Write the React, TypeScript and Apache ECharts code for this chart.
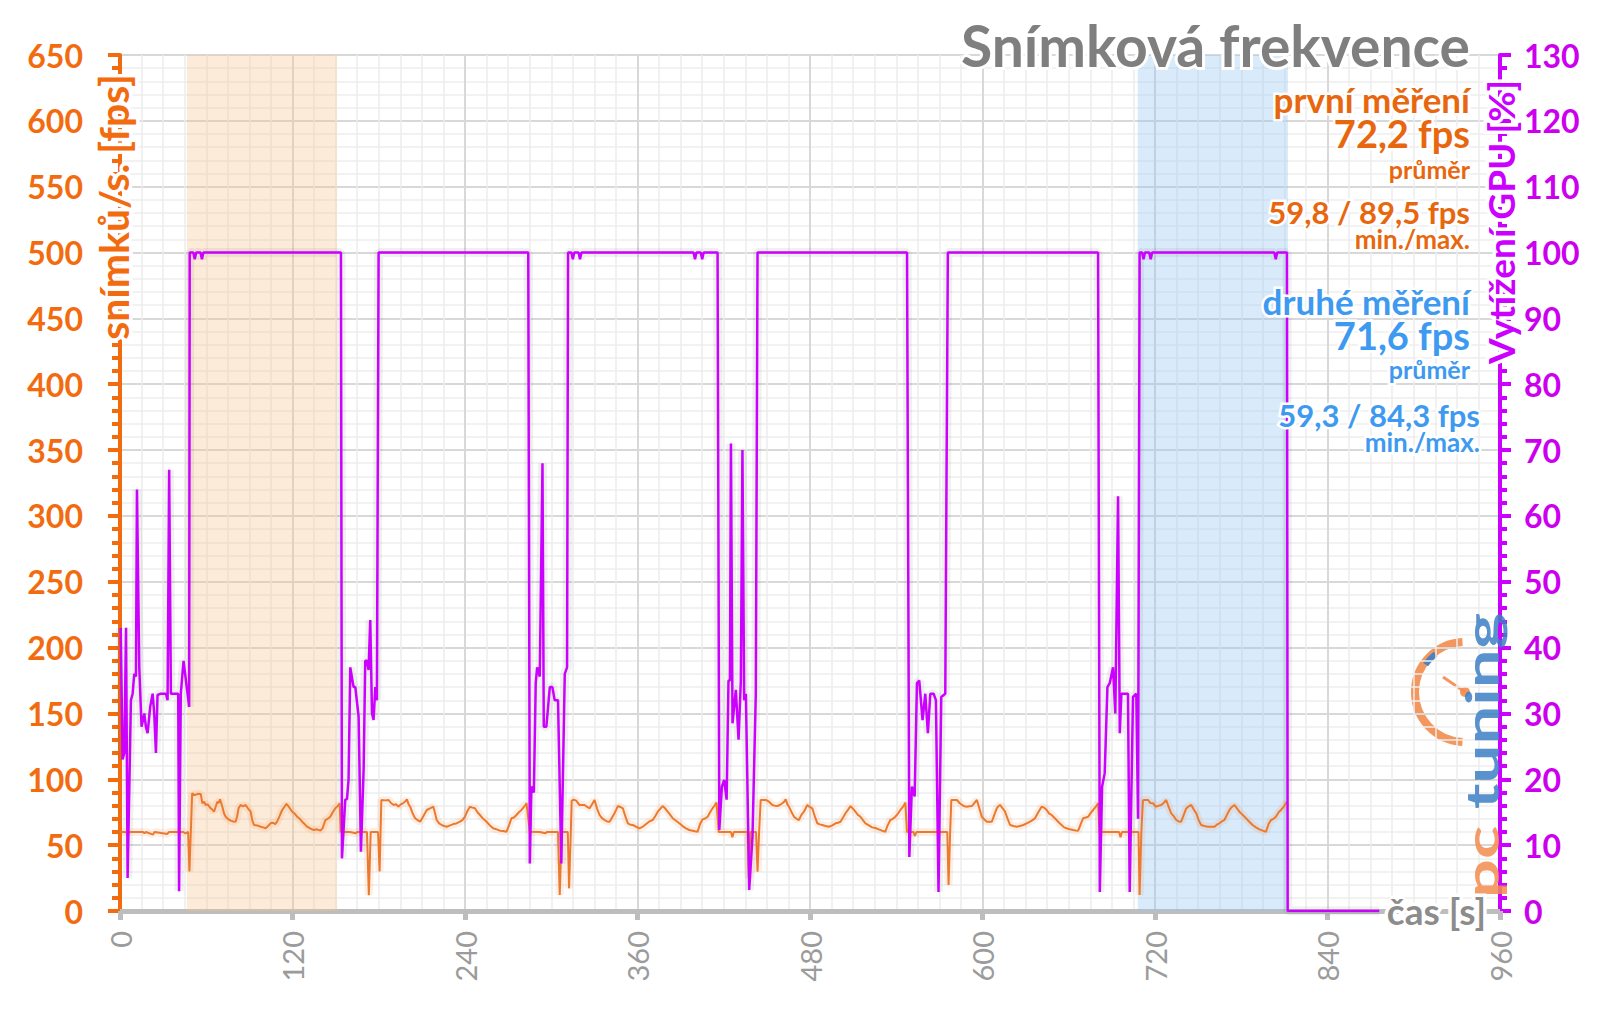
import React, { useEffect, useRef } from "react";
import * as echarts from "echarts";

// ---- Axis ticks ----
const xTickInterval = 120; // s
const xMax = 960;
const fpsMax = 650;
const fpsInterval = 50;
const gpuMax = 130;
const gpuInterval = 10;

// ---- Highlighted runs (seconds) ----
const firstRunBand = [46.5, 151];
const secondRunBand = [708, 812.5];

// ---- Frame rate [fps] as [time s, fps] ----
const fpsLoad0 = [[0,60],[3,60],[6,59.5],[7,60],[16,60],[17,59],[18,60],[23,58],[24,60],[33,58.5],[34,60],[44,60],[45.5,59],[47.4,60],[48.3,30],[50.2,89.4]];
const fpsRun1 = [[52,88],[54,89],[56.2,88.8],[57.3,81.8],[58.5,83],[59.6,80.5],[61,81],[63.1,78],[64.2,77],[65.4,75.4],[66.5,79],[67.7,83],[68.6,82],[69.6,84.8],[71.2,79.2],[72.4,74],[73.5,71.6],[75,70],[77,68.6],[78.8,68],[80.4,67.8],[81.5,72],[82.5,78],[83.9,80.5],[85.5,79.5],[87.4,80.5],[89,78],[90.9,75.4],[92,69],[93.2,65.3],[95.5,65],[97.8,64],[99.5,63.5],[101.3,62.8],[103,64.5],[104.7,66.6],[106.5,67],[108,66],[109.3,67.8],[111,72],[112.8,76.7],[114.3,79],[115.8,81.3],[117.5,79],[119.8,75.4],[121.5,74],[123.2,71.6],[125,70],[126.7,67.8],[128.4,66],[130.2,64],[132.5,62.5],[134.8,61.5],[137,62],[139.4,61],[141,63],[142.9,69.1],[144.5,70],[146.3,71.6],[148,75],[149.8,78],[151.3,79.5],[152.8,81.8]];
const fpsLoad1 = [[153.5,60],[160,60],[164,59],[165,60],[171.8,60],[173.1,12],[174.4,60],[179.5,60],[180.6,30],[181.8,84.3]];
const fpsRun2 = [[184.5,84],[186.9,84.3],[188.5,82],[190.4,80.5],[192,81],[193.8,79.2],[195.3,81],[196.8,81.8],[198.2,83],[199.6,84.8],[200.8,81],[201.9,79.2],[203.6,74],[205.3,70.4],[207,69],[208.8,67.8],[211,72],[213.4,76.7],[215.7,78],[218,79.2],[219.2,74],[220.3,69.1],[222,66.5],[223.8,65.3],[225.5,64.5],[227.3,64],[229.6,65],[231.9,66],[234,66.5],[236.5,67.8],[238.2,69],[240,71.6],[241.7,76],[243.4,79.2],[245.2,78.5],[246.9,78],[248.7,75],[250.4,72.9],[252.7,70],[255,67.8],[257.3,65],[259.6,62.8],[262,62],[264.3,61],[266.6,60.8],[268.9,60.2],[270.6,65],[272.3,70.4],[274,71],[275.8,72.9],[277.5,75],[279.3,76.7],[281,79],[282.8,81.8]];
const fpsLoad2 = [[285.1,60.2],[292,60],[296,59],[297,60],[304.7,60],[305.9,12.1],[307.3,60],[311.5,60],[312.4,17.2],[313.6,60],[314.2,83.8]];
const fpsRun3 = [[315.7,84.5],[317.4,83.8],[318.5,82],[319.7,80.5],[321.5,80.5],[323.2,80.5],[325,79],[326.7,78],[328.4,81],[330.1,84.3],[331.8,78],[333.6,72.9],[335.3,70.5],[337.1,69.1],[338.8,68],[340.6,67.8],[342.3,71],[344,74.2],[345.2,77],[346.3,79.7],[348,79],[349.8,78],[351.5,72],[353.3,66.6],[355,65.5],[356.7,65.3],[359,64],[361.4,62.8],[363.7,64],[366,66],[368.3,68],[370.6,69.1],[372.3,72],[374.1,75.4],[375.8,77.5],[377.5,79.7],[379.2,78],[381,75.4],[382.8,73],[384.5,70.4],[386.8,68.5],[389.1,66.6],[391.4,64.5],[393.7,62.8],[396,61.5],[398.4,61],[400,60.5],[401.8,60.2],[403.5,66],[405.3,69.6],[407,70.2],[408.8,71.6],[410.5,75],[412.2,78],[413.6,80],[415,82.3]];
const fpsLoad3 = [[416.5,60],[425,60],[426,56],[427,60],[436.6,60],[437.5,25],[438.5,60],[442.5,60],[443.5,29.9],[444.6,60],[445.7,84.3]];
const fpsRun4 = [[447,84.3],[449.2,84.3],[451.5,83],[453.8,80.5],[455.5,80],[457.3,79.7],[459,80.5],[460.8,81.8],[462,83],[463.1,84.8],[464.3,81],[465.4,79.2],[467.2,75],[468.9,71.6],[470.6,70],[472.3,69.1],[474,73],[475.8,75.4],[477,78],[478.1,80.5],[479.8,79],[481.6,78],[483.3,72],[485.1,66.6],[486.8,65.8],[488.5,65.3],[490.8,64.5],[493.1,64],[495.5,65],[497.8,66.6],[499.5,67],[501.2,67.8],[503,71],[504.7,74.2],[506.5,77],[508.2,79.7],[510,77.5],[511.6,75.4],[513.3,73],[515.1,71.6],[516.8,69],[518.6,66.6],[521,65],[523.2,63.5],[525.5,63],[527.8,62],[530,61],[532.4,60.2],[534,65],[535.9,69.1],[537.6,70],[539.4,71.6],[541.2,74],[542.9,76.7],[544.6,79],[546.3,82.3]];
const fpsLoad4 = [[547.5,60],[552,60],[553,57],[554,60],[575.5,60],[576.4,19.7],[577.5,60],[578.3,84.3]];
const fpsRun5 = [[579.5,84.3],[582.2,84.3],[584,82],[585.7,80.5],[587.4,79.5],[589.1,79.2],[590.8,79.5],[592.6,79.7],[594.3,82],[596.1,84.3],[597.8,78],[599.5,71.6],[601.3,69.5],[603,67.8],[604.7,67.8],[606.5,67.8],[608.2,73],[609.9,78],[611,79.5],[612.2,80.5],[614,78],[615.7,75.4],[617.5,70],[619.2,65.3],[621.5,64.5],[623.8,64],[626,64.5],[628.4,65.3],[630.7,66.5],[633.1,67.8],[634.8,69],[636.5,70.4],[638.8,75],[641.1,79.2],[642.9,78.5],[644.6,76.7],[646.4,74],[648.1,72.9],[649.8,71],[651.5,69.1],[653.3,67],[655,65.3],[656.8,63.5],[658.5,62.8],[660.8,62],[663.1,61.5],[664.8,61.2],[666.6,61],[668.3,66],[670,70.4],[671.8,71],[673.5,71.6],[675.3,74.5],[677,76.7],[678.7,79],[680.4,81.8]];
const fpsLoad5 = [[681.5,60],[695,60],[696,56],[697,60],[708.5,60],[709.3,12.1],[710.5,60],[711.6,84]];
const fpsRun6 = [[712.5,84.3],[715.1,84.3],[716.8,82],[718.6,81.8],[719.8,80],[720.9,79.2],[722.6,80],[724.4,80.5],[726,82],[727.8,84.3],[729.5,79],[731.3,74.2],[733,72],[734.8,69.1],[736.5,68],[738.2,67.8],[740,73],[741.7,77.9],[743.5,79.5],[745.2,80.5],[747,77],[748.7,74.2],[750.4,69],[752.1,65.3],[754.4,64.5],[756.7,64],[759,64],[761.4,64],[763,65.5],[764.8,66.6],[766.5,68],[768.3,69.1],[770,73],[771.8,76.7],[773.5,79],[775.2,80.5],[777,78],[778.7,75.4],[781,73],[783.3,70.4],[785.6,67.8],[787.9,65.3],[790.2,63.5],[792.6,62],[795,61],[797.2,60.2],[799,66],[800.7,69.1],[802.4,70],[804.1,71.6],[806,75],[807.6,76.7],[809.7,79.5],[811.8,83]];

// ---- GPU utilisation [%] as [time s, %] ----
const gpuLoad0 = [[0.5,43],[1.8,23],[3,24],[4.2,43],[5.3,5],[7.6,32],[8.8,33],[9.9,36],[11.1,35.6],[11.8,64],[13.4,37],[15,28],[16.9,30],[18,28],[19.2,27],[21,31],[22.7,33],[23.8,30],[25,24],[26.1,32.8],[28.4,33],[31.9,33],[33.1,32],[34.2,67],[35.4,33],[40.5,33],[41.1,3],[42.3,33],[44.2,38],[48.1,31],[48.5,100]];
const gpuRun1 = [[51,100],[52,99],[53,100],[56,100],[57,99],[58,100],[153.7,100]];
const gpuLoad1 = [[154.4,8],[156.7,16.9],[157.9,17],[159,20],[160.2,37],[162.5,34],[163.7,34],[166,29.5],[167.6,9],[169.5,21.7],[170.6,38],[171.8,38],[172.9,36.6],[174.1,44.2],[175.3,30],[176.4,29],[177.6,34],[178.7,32],[179.9,100]];
const gpuRun2 = [[284,100]];
const gpuLoad2 = [[285.1,7.2],[286.2,18.9],[287.9,18],[289.2,34.6],[290.2,37],[292,35.6],[293.9,68],[294.8,28],[296.6,28],[299,34],[300.8,34],[302.4,32],[304.7,32],[307,7.2],[309.4,36],[311,37],[311.7,100]];
const gpuRun3 = [[314,100],[315,99],[316,100],[319,100],[320,99],[321,100],[399,100],[400,99],[401,100],[404,100],[405,99],[406,100],[415.7,100]];
const gpuLoad3 = [[416.9,12.3],[418.7,18.9],[420.3,19.9],[422,16.9],[423.3,35],[424.3,35],[425,71],[426.1,28.5],[428.4,33.6],[430.3,26],[431.9,35],[433,70],[434.2,32],[435.4,33],[437.7,3.2],[440,11.3],[442.3,33],[443.5,100]];
const gpuRun4 = [[547.5,100]];
const gpuLoad4 = [[549.1,8.2],[550.9,18.9],[552.8,17.4],[554.4,34.6],[556,35],[558.3,29],[560.2,33],[562,27],[563.7,33],[566,33],[567.6,32],[569.4,2.9],[571.3,32.5],[574.1,33],[575.9,100]];
const gpuRun5 = [[680.4,100]];
const gpuLoad5 = [[681.6,2.9],[683.2,18.9],[685,20.9],[686.9,34],[688.5,34.6],[690.8,37],[692.4,30],[694.3,63],[695.5,27],[696.6,33],[701.2,33],[702.4,2.9],[704.7,32.5],[707,33],[708.2,14],[709.3,100]];
const gpuRun6 = [[711,100],[712,99],[713,100],[716,100],[717,99],[718,100],[803,100],[804,99],[805,100],[811.8,100],[812.3,0],[876,0]];

// ---- Texts ----
const titleText = "Snímková frekvence";
const fpsAxisName = "snímků/s. [fps]";
const gpuAxisName = "Vytížení GPU [%]";
const timeAxisName = "čas [s]";
const firstLabel = ["první měření", "72,2 fps", "průměr", "59,8 / 89,5 fps", "min./max."];
const secondLabel = ["druhé měření", "71,6 fps", "průměr", "59,3 / 84,3 fps", "min./max."];

const ORANGE_AXIS = "#f26b0f";
const ORANGE_TEXT = "#e8670e";
const ORANGE_LINE = "#eb7a2e";
const PURPLE = "#cc00ff";
const BLUE_TEXT = "#3d9af0";
const FONT = "Lato";

function txt(text: string, x: number, y: number, size: number, color: string, opts: any = {}) {
  return {
    type: "text",
    x,
    y,
    z: 100,
    rotation: opts.rotation || 0,
    scaleX: opts.scaleX || 1,
    style: {
      text,
      fill: color,
      fontSize: size,
      fontWeight: opts.weight || "bold",
      fontFamily: FONT,
      align: opts.align || "right",
      textAlign: opts.align || "right",
      verticalAlign: "middle",
      textVerticalAlign: "middle",
      stroke: opts.noStroke ? undefined : "#ffffff",
      lineWidth: opts.noStroke ? 0 : (opts.strokeWidth || 5),
      opacity: opts.opacity || 1,
    },
  };
}

export default function App() {
  const ref = useRef<HTMLDivElement>(null);
  useEffect(() => {
    if (!ref.current) return;
    const chart = echarts.init(ref.current, null, { renderer: "svg" });
    const fpsData = [
      ...fpsLoad0, ...fpsRun1, ...fpsLoad1, ...fpsRun2, ...fpsLoad2, ...fpsRun3,
      ...fpsLoad3, ...fpsRun4, ...fpsLoad4, ...fpsRun5, ...fpsLoad5, ...fpsRun6,
    ];
    const gpuData = [
      ...gpuLoad0, ...gpuRun1, ...gpuLoad1, ...gpuRun2, ...gpuLoad2, ...gpuRun3,
      ...gpuLoad3, ...gpuRun4, ...gpuLoad4, ...gpuRun5, ...gpuLoad5, ...gpuRun6,
    ];
    const logoCx = 1465;
    const logoCy = 692;
    const option: any = {
      animation: false,
      backgroundColor: "#ffffff",
      grid: { left: 120, right: 100, top: 55, bottom: 98, containLabel: false },
      xAxis: {
        type: "value",
        min: 0,
        max: xMax,
        interval: xTickInterval,
        axisLine: { show: true, onZero: false, lineStyle: { color: "#bdbdbd", width: 5 } },
        axisTick: { show: true, length: 9, lineStyle: { color: "#bdbdbd", width: 5 } },
        axisLabel: {
          rotate: 90,
          color: "#9b9b9b",
          fontSize: 29,
          fontFamily: FONT,
          margin: 20,
        },
        splitLine: { show: true, lineStyle: { color: "#d8d8d8", width: 2 } },
        minorTick: { show: false, splitNumber: 8 },
        minorSplitLine: { show: true, lineStyle: { color: "#ececec", width: 1.5 } },
      },
      yAxis: [
        {
          type: "value",
          min: 0,
          max: fpsMax,
          interval: fpsInterval,
          position: "left",
          axisLine: { show: true, lineStyle: { color: ORANGE_AXIS, width: 4 } },
          axisTick: { show: true, length: 12, lineStyle: { color: ORANGE_AXIS, width: 4 } },
          minorTick: { show: true, splitNumber: 5, length: 8, lineStyle: { color: ORANGE_AXIS, width: 4 } },
          axisLabel: {
            color: ORANGE_AXIS,
            fontSize: 32,
            fontWeight: "bold",
            fontFamily: FONT,
            margin: 37,
          },
          splitLine: { show: true, lineStyle: { color: "#d8d8d8", width: 2 } },
          minorSplitLine: { show: true, lineStyle: { color: "#eeeeee", width: 1.5 } },
        },
        {
          type: "value",
          min: 0,
          max: gpuMax,
          interval: gpuInterval,
          position: "right",
          axisLine: { show: true, lineStyle: { color: PURPLE, width: 4 } },
          axisTick: { show: true, length: 11, lineStyle: { color: PURPLE, width: 4 } },
          minorTick: { show: true, splitNumber: 5, length: 7, lineStyle: { color: PURPLE, width: 4 } },
          axisLabel: {
            color: "#cc00ee",
            fontSize: 32,
            fontWeight: "bold",
            fontFamily: FONT,
            margin: 24,
          },
          splitLine: { show: false },
        },
      ],
      series: [
        {
          type: "line",
          data: [],
          z: 1,
          silent: true,
          markArea: {
            silent: true,
            data: [
              [
                { xAxis: firstRunBand[0], itemStyle: { color: "rgba(250,195,145,0.34)" } },
                { xAxis: firstRunBand[1] },
              ],
              [
                { xAxis: secondRunBand[0], itemStyle: { color: "rgba(150,200,245,0.36)" } },
                { xAxis: secondRunBand[1] },
              ],
            ],
          },
        },
        {
          name: "fps-glow",
          type: "line",
          yAxisIndex: 0,
          data: fpsData,
          showSymbol: false,
          symbol: "none",
          silent: true,
          z: 2,
          lineStyle: { color: "rgba(235,122,46,0.12)", width: 8 },
        },
        {
          name: "gpu-glow",
          type: "line",
          yAxisIndex: 1,
          data: gpuData,
          showSymbol: false,
          symbol: "none",
          silent: true,
          z: 2,
          lineStyle: { color: "rgba(60,60,60,0.08)", width: 9 },
        },
        {
          name: "fps",
          type: "line",
          yAxisIndex: 0,
          data: fpsData,
          showSymbol: false,
          symbol: "none",
          z: 3,
          lineStyle: { color: ORANGE_LINE, width: 2 },
        },
        {
          name: "gpu",
          type: "line",
          yAxisIndex: 1,
          data: gpuData,
          showSymbol: false,
          symbol: "none",
          z: 4,
          lineStyle: { color: PURPLE, width: 2.5 },
        },
      ],
      graphic: [
        // logo
        {
          type: "group",
          z: 5,
          children: [
            {
              type: "arc",
              shape: { cx: logoCx, cy: logoCy, r: 50, startAngle: Math.PI / 2 + 0.05, endAngle: (3 * Math.PI) / 2 - 0.05, clockwise: true },
              style: { stroke: "#f28c4e", lineWidth: 8, fill: null, opacity: 0.9 },
            },
            {
              type: "arc",
              shape: { cx: logoCx, cy: logoCy, r: 48, startAngle: 3.75, endAngle: 4.05, clockwise: true },
              style: { stroke: "#3d7fc4", lineWidth: 6, fill: null, opacity: 0.9 },
            },
            {
              type: "line",
              shape: { x1: logoCx, y1: logoCy, x2: logoCx - 22, y2: logoCy - 15 },
              style: { stroke: "#f28c4e", lineWidth: 3, opacity: 0.9 },
            },
            {
              type: "circle",
              shape: { cx: logoCx, cy: logoCy, r: 5 },
              style: { fill: "#f28c4e", opacity: 0.9 },
            },
            txt("tuning", 1481, 711, 46, "#3d7fc4", { align: "center", rotation: Math.PI / 2, scaleX: 1.5, noStroke: true, opacity: 0.85 }),
            txt("pc", 1481, 862, 46, "#f28c4e", { align: "center", rotation: Math.PI / 2, scaleX: 1.5, noStroke: true, opacity: 0.85 }),
          ],
        },
        txt(titleText, 1470, 45, 57, "#7f7f7f", { strokeWidth: 6 }),
        txt(firstLabel[0], 1470, 99, 35, ORANGE_TEXT),
        txt(firstLabel[1], 1470, 133, 38, ORANGE_TEXT),
        txt(firstLabel[2], 1470, 169, 25, ORANGE_TEXT),
        txt(firstLabel[3], 1470, 212, 31, ORANGE_TEXT),
        txt(firstLabel[4], 1470, 239, 26, ORANGE_TEXT),
        txt(secondLabel[0], 1470, 301, 35, BLUE_TEXT),
        txt(secondLabel[1], 1470, 335, 38, BLUE_TEXT),
        txt(secondLabel[2], 1470, 369, 25, BLUE_TEXT),
        txt(secondLabel[3], 1480, 415, 31, BLUE_TEXT),
        txt(secondLabel[4], 1480, 442, 26, BLUE_TEXT),
        txt(fpsAxisName, 113, 207, 41, ORANGE_AXIS, { align: "center", rotation: Math.PI / 2, strokeWidth: 7 }),
        txt(gpuAxisName, 1500, 222, 37, PURPLE, { align: "center", rotation: Math.PI / 2, strokeWidth: 7 }),
        txt(timeAxisName, 1486, 910, 37, "#8c8c8c", { strokeWidth: 7 }),
      ],
    };
    chart.setOption(option);
    return () => chart.dispose();
  }, []);
  return (
    <div
      ref={ref}
      style={{ position: "absolute", left: 0, top: 0, width: 1600, height: 1009, background: "#fff" }}
    />
  );
}
